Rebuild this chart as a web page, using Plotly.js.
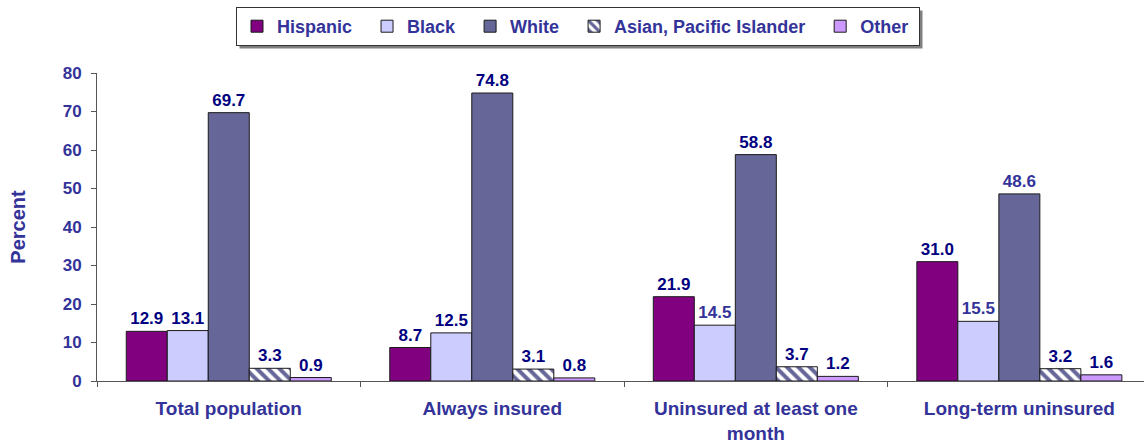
<!DOCTYPE html>
<html>
<head>
<meta charset="utf-8">
<script src="https://cdn.plot.ly/plotly-3.0.1.min.js"></script>
<style>html,body{margin:0;padding:0;background:#fff;}#chart{width:1144px;height:443px;}</style>
</head>
<body>
<div id="chart"></div>
<script>
const categories = ["Total population", "Always insured", "Uninsured at least one<br>month", "Long-term uninsured"];
const hispanic = [12.9, 8.7, 21.9, 31.0];
const black = [13.1, 12.5, 14.5, 15.5];
const white = [69.7, 74.8, 58.8, 48.6];
const asian = [3.3, 3.1, 3.7, 3.2];
const other = [0.9, 0.8, 1.2, 1.6];
const seriesNames = ["Hispanic", "Black", "White", "Asian, Pacific Islander", "Other"];

const NAVY = "#000080", BLUE = "#333399";
const FONT = "Liberation Sans, Arial, sans-serif";
const W = 1144, H = 443;
const PAD = "\u00A0\u00A0";

function bar(name, vals, color, labelColors, pattern) {
  const t = {
    type: "bar", name: name, x: categories, y: vals,
    text: vals.map(v => v.toFixed(1)), textposition: "outside",
    textfont: {family: FONT, size: 17, color: labelColors, weight: "bold"},
    cliponaxis: false,
    marker: {color: color, line: {color: "#1a1a1a", width: 1}},
    hoverinfo: "none"
  };
  if (pattern) t.marker.pattern = pattern;
  return t;
}

const data = [
  bar(seriesNames[0] + PAD, hispanic, "#800080", [NAVY, NAVY, NAVY, NAVY]),
  bar(seriesNames[1] + PAD, black, "#CCCCFF", [NAVY, NAVY, BLUE, BLUE]),
  bar(seriesNames[2] + PAD, white, "#666699", [NAVY, NAVY, NAVY, BLUE]),
  bar(seriesNames[3] + PAD, asian, "#ffffff", [NAVY, NAVY, NAVY, NAVY],
      {shape: "\\", fgcolor: "#666699", bgcolor: "#ffffff", size: 8, solidity: 0.5}),
  bar(seriesNames[4] + "\u00A0", other, "#CC99FF", [NAVY, NAVY, NAVY, NAVY])
];

const ML = 97, MT = 73, MB = 62;
const plotW = W - ML, plotH = H - MT - MB;
const layout = {
  width: W, height: H,
  margin: {l: ML, r: 0, t: MT, b: MB},
  paper_bgcolor: "#ffffff", plot_bgcolor: "#ffffff",
  barmode: "group", bargap: 0.222, bargroupgap: 0,
  font: {family: FONT, color: BLUE},
  showlegend: true,
  legend: {
    orientation: "h", xref: "container", yref: "container",
    x: 578 / W, xanchor: "center", y: 1 - 7 / H, yanchor: "top",
    bgcolor: "#ffffff", bordercolor: "#333333", borderwidth: 1,
    font: {family: FONT, size: 18, color: BLUE, weight: "bold"},
    traceorder: "normal"
  },
  xaxis: {
    range: [-0.5, 3.473], type: "category",
    showline: true, linecolor: "#555555", linewidth: 1,
    ticks: "outside", tickson: "boundaries", ticklen: 5, tickcolor: "#555555",
    tickfont: {family: FONT, size: 19, color: BLUE, weight: "bold"},
    ticklabelstandoff: 10,
    showgrid: false, zeroline: false, fixedrange: true
  },
  yaxis: {
    range: [0, 80], dtick: 10,
    showline: true, linecolor: "#555555", linewidth: 1,
    ticks: "outside", ticklen: 5, tickcolor: "#555555",
    tickfont: {family: FONT, size: 17, color: BLUE, weight: "bold"},
    ticklabelstandoff: 6,
    showgrid: false, zeroline: false, fixedrange: true,
    title: {text: "Percent", font: {family: FONT, size: 20, color: BLUE, weight: "bold"}, standoff: 31}
  }
};

Plotly.newPlot("chart", data, layout, {displayModeBar: false, staticPlot: true}).then(gd => {
  const bg = gd.querySelector(".legend .bg");
  if (!bg) return;
  const r = bg.getBoundingClientRect();
  const c = gd.getBoundingClientRect();
  const x0 = r.left - c.left + 3, x1 = r.right - c.left + 3;
  const y0 = r.top - c.top + 3, y1 = r.bottom - c.top + 3;
  return Plotly.relayout(gd, {shapes: [{
    type: "rect", xref: "paper", yref: "paper", layer: "below",
    x0: (x0 - ML) / plotW, x1: (x1 - ML) / plotW,
    y0: 1 + (MT - y1) / plotH, y1: 1 + (MT - y0) / plotH,
    fillcolor: "#808080", line: {width: 0}
  }]});
});
</script>
</body>
</html>
